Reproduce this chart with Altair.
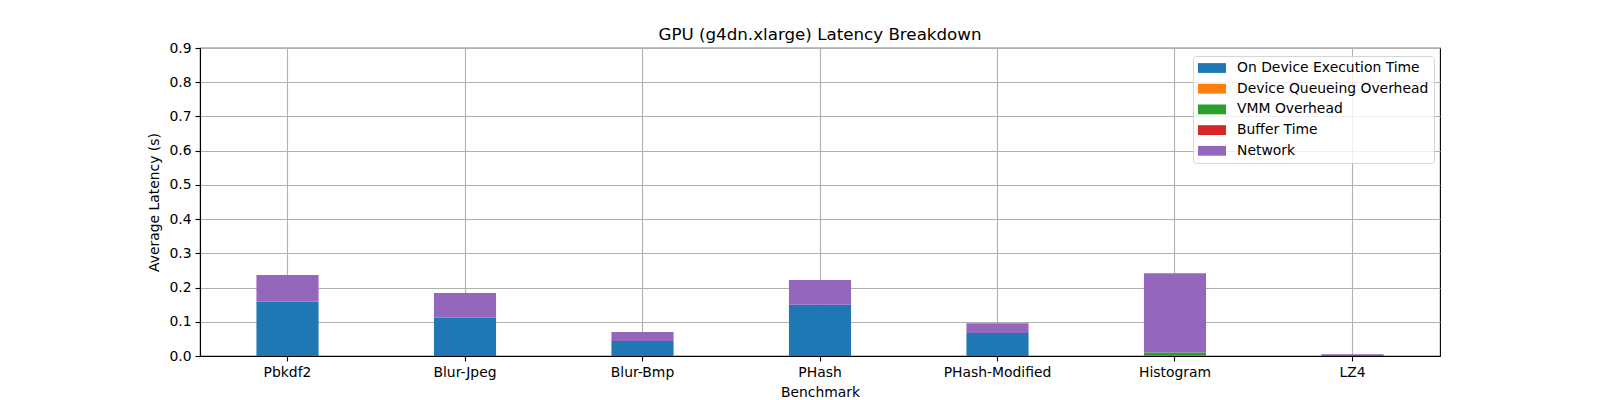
import altair as alt
import pandas as pd

benchmarks = ["Pbkdf2", "Blur-Jpeg", "Blur-Bmp", "PHash", "PHash-Modified", "Histogram", "LZ4"]
components = ["On Device Execution Time", "Device Queueing Overhead", "VMM Overhead", "Buffer Time", "Network"]
colors = ["#1f77b4", "#ff7f0e", "#2ca02c", "#d62728", "#9467bd"]

exec_time = [0.159, 0.112, 0.044, 0.150, 0.067, 0.001, 0.003]
queue_time = [0.0, 0.0, 0.0, 0.0, 0.0, 0.0, 0.0]
vmm_time = [0.0, 0.0, 0.0, 0.0, 0.0, 0.009, 0.0]
buffer_time = [0.0, 0.0, 0.0, 0.0, 0.0, 0.0, 0.0]
network_time = [0.078, 0.072, 0.026, 0.072, 0.029, 0.232, 0.002]

y_ticks = [0.0, 0.1, 0.2, 0.3, 0.4, 0.5, 0.6, 0.7, 0.8, 0.9]

series = [exec_time, queue_time, vmm_time, buffer_time, network_time]
rows = []
for ci, (comp, vals) in enumerate(zip(components, series)):
    for b, v in zip(benchmarks, vals):
        rows.append({"Benchmark": b, "Component": comp, "Latency": v, "order": ci})
df = pd.DataFrame(rows)

FONT = "DejaVu Sans"

chart = alt.Chart(df).mark_bar(stroke=None).encode(
    x=alt.X("Benchmark:N", sort=benchmarks,
            scale=alt.Scale(paddingInner=0.65, paddingOuter=0.318),
            axis=alt.Axis(title="Benchmark", labelAngle=0, bandPosition=0.5,
                          grid=True, titlePadding=7, labelPadding=4)),
    y=alt.Y("Latency:Q", stack="zero",
            scale=alt.Scale(domain=[0, 0.9], nice=False),
            axis=alt.Axis(title="Average Latency (s)", values=y_ticks, format=".1f",
                          grid=True, titlePadding=7, labelPadding=4)),
    color=alt.Color("Component:N",
                    scale=alt.Scale(domain=components, range=colors),
                    legend=alt.Legend(title=None, orient="none", legendX=993, legendY=8,
                                      symbolType="M-2,-0.7H2V0.7H-2Z", symbolSize=196,
                                      symbolOffset=7, symbolStrokeWidth=0,
                                      labelOffset=18, labelFontSize=13.9, labelFont=FONT,
                                      labelColor="black", rowPadding=6.7, padding=5,
                                      fillColor="rgba(255,255,255,0.8)",
                                      strokeColor="rgba(204,204,204,0.8)",
                                      cornerRadius=3, zindex=3, labelLimit=400)),
    order=alt.Order("order:Q", sort="ascending"),
).properties(
    width=1240,
    height=308,
    title=alt.TitleParams("GPU (g4dn.xlarge) Latency Breakdown", fontSize=16.7, font=FONT,
                          fontWeight="normal", color="black", anchor="middle",
                          baseline="alphabetic", offset=8, dy=24, frame="group"),
    autosize="none",
    padding={"left": 192, "top": 40, "right": 152, "bottom": 44},
).configure_view(
    stroke="black", strokeWidth=1.1
).configure_axis(
    labelFont=FONT, labelFontSize=13.9, labelColor="black",
    titleFont=FONT, titleFontSize=13.9, titleColor="black", titleFontWeight="normal",
    domainColor="black", domainWidth=1.1, tickColor="black", tickWidth=1.1, tickSize=5,
    gridColor="#b0b0b0", gridWidth=1.1, zindex=1
)

chart.save("out.html", embed_options={"renderer": "svg", "actions": False})
